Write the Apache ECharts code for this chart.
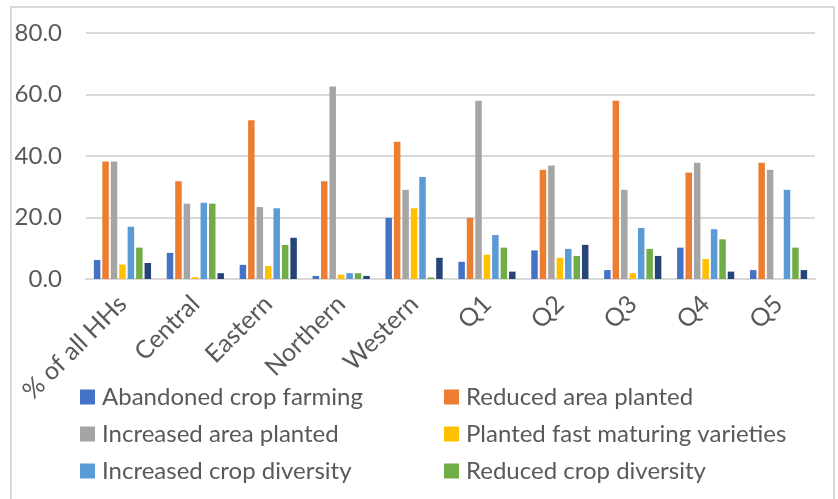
<!DOCTYPE html>
<html>
<head>
<meta charset="utf-8">
<script src="https://cdn.jsdelivr.net/npm/echarts@6/dist/echarts.min.js"></script>
<style>
  html, body { margin: 0; padding: 0; background: #fff; }
  #chart { width: 838px; height: 499px; }
</style>
</head>
<body>
<div id="chart"></div>
<script>
// Categories: all households, regions, and quintiles
const categories = ['% of all HHs', 'Central', 'Eastern', 'Northern', 'Western', 'Q1', 'Q2', 'Q3', 'Q4', 'Q5'];

// Share of households (%) reporting each coping response
const abandonedCropFarming   = [6.2, 8.5, 4.6, 1.0, 19.9, 5.6, 9.3, 2.9, 10.2, 2.9];
const reducedAreaPlanted     = [38.2, 31.8, 51.6, 31.8, 44.6, 19.9, 35.5, 58.0, 34.6, 37.8];
const increasedAreaPlanted   = [38.2, 24.5, 23.4, 62.6, 29.0, 58.0, 36.9, 29.0, 37.8, 35.5];
const plantedFastMaturing    = [4.7, 0.6, 4.2, 1.4, 23.0, 7.9, 6.9, 1.9, 6.5, 0];
const increasedCropDiversity = [17.0, 24.8, 23.0, 1.9, 33.2, 14.3, 9.8, 16.6, 16.2, 29.0];
const reducedCropDiversity   = [10.2, 24.5, 11.1, 1.9, 0.5, 10.2, 7.5, 9.8, 12.9, 10.2];
const otherResponse          = [5.2, 1.9, 13.4, 1.0, 6.9, 2.4, 11.1, 7.5, 2.4, 2.9];

// Y axis scale
const yMin = 0, yMax = 80, yStep = 20;

const seriesDefs = [
  { name: 'Abandoned crop farming', data: abandonedCropFarming, color: '#4472C4' },
  { name: 'Reduced area planted', data: reducedAreaPlanted, color: '#ED7D31' },
  { name: 'Increased area planted', data: increasedAreaPlanted, color: '#A5A5A5' },
  { name: 'Planted fast maturing varieties', data: plantedFastMaturing, color: '#FFC000' },
  { name: 'Increased crop diversity', data: increasedCropDiversity, color: '#5B9BD5' },
  { name: 'Reduced crop diversity', data: reducedCropDiversity, color: '#70AD47' },
  { name: 'Other', data: otherResponse, color: '#264478' }
];

const textColor = '#595959';
const fontFamily = 'Lato, "Liberation Sans", sans-serif';

const legendCommon = {
  orient: 'vertical',
  padding: 0,
  itemWidth: 15,
  itemHeight: 15,
  itemGap: 13,
  icon: 'rect',
  textStyle: { color: textColor, fontSize: 24, fontFamily: fontFamily, lineHeight: 23, padding: [0, 0, 0, 2] }
};

const chart = echarts.init(document.getElementById('chart'), null, { renderer: 'canvas' });

chart.setOption({
  animation: false,
  backgroundColor: '#fff',
  color: seriesDefs.map(s => s.color),
  graphic: [{
    type: 'rect',
    shape: { x: 11, y: 7, width: 823, height: 500 },
    style: { fill: 'none', stroke: '#d9d9d9', lineWidth: 2 },
    silent: true
  }],
  grid: { left: 86, right: 23, top: 33, bottom: 220, containLabel: false },
  legend: [
    Object.assign({}, legendCommon, {
      left: 80, top: 385,
      data: [seriesDefs[0].name, seriesDefs[2].name, seriesDefs[4].name]
    }),
    Object.assign({}, legendCommon, {
      left: 444, top: 385,
      data: [seriesDefs[1].name, seriesDefs[3].name, seriesDefs[5].name]
    })
  ],
  xAxis: {
    type: 'category',
    data: categories,
    axisTick: { show: false },
    axisLine: { show: true, lineStyle: { color: '#d9d9d9', width: 2 } },
    axisLabel: {
      rotate: 45,
      interval: 0,
      margin: 21,
      verticalAlign: 'middle',
      color: textColor,
      fontSize: 25,
      fontFamily: fontFamily
    }
  },
  yAxis: {
    type: 'value',
    min: yMin,
    max: yMax,
    interval: yStep,
    axisLine: { show: false },
    axisTick: { show: false },
    splitLine: { lineStyle: { color: '#d9d9d9', width: 2 } },
    axisLabel: {
      margin: 24,
      color: textColor,
      fontSize: 24,
      fontFamily: fontFamily,
      formatter: v => v.toFixed(1)
    }
  },
  series: seriesDefs.map(s => ({
    name: s.name,
    type: 'bar',
    data: s.data,
    barWidth: 6.5,
    barGap: '30%',
    itemStyle: { color: s.color }
  }))
});
</script>
</body>
</html>
